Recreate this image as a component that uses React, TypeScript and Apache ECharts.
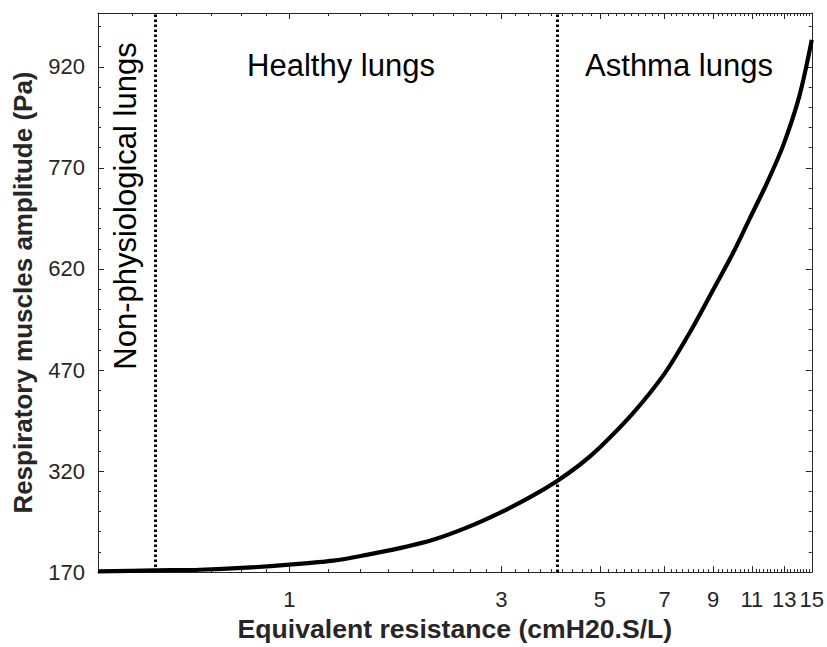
import React, { useEffect, useRef } from "react";
import * as echarts from "echarts";

// Equivalent resistance (cmH20.S/L) and muscle amplitude (Pa)
const resistance = [0.371, 0.5, 0.63, 0.8, 1, 1.256, 1.493, 1.774, 2.108, 2.506, 2.977, 3.5, 4, 4.5, 5, 5.94, 7, 7.96, 8.98, 9.96, 10.86, 11.84, 12.91, 14.07, 15];
const amplitude = [171, 172.5, 173.5, 176.5, 181, 187, 195.6, 205.6, 218, 236, 258, 282, 305, 329, 355, 406, 465, 525, 588, 643, 694, 745, 802, 877, 960];

const xMajorTicks = [1, 3, 5, 7, 9, 11, 13, 15];
const xMinorBelowOne = [0.444, 0.556, 0.667, 0.778, 0.889];
const yMajorTicks = [170, 320, 470, 620, 770, 920];
const yMinorStep = 30;

const regionBoundaries = [0.5, 4];
const regionLabels = ["Non-physiological lungs", "Healthy lungs", "Asthma lungs"];

const X_MIN = 0.371;
const X_MAX = 15;
const Y_MIN = 170;
const Y_MAX = 1000;

const AXIS_COLOR = "#262626";
const FONT = "'Liberation Sans', Arial, Helvetica, sans-serif";

function xMinorTicks(): number[] {
  const out: number[] = [...xMinorBelowOne];
  for (let i = 0; i < xMajorTicks.length - 1; i++) {
    const a = xMajorTicks[i];
    const b = xMajorTicks[i + 1];
    for (let k = 1; k < 9; k++) out.push(a + (k * (b - a)) / 9);
  }
  return out;
}

function yMinorTicks(): number[] {
  const out: number[] = [];
  for (let v = Y_MIN + yMinorStep; v < Y_MAX; v += yMinorStep) {
    if (!yMajorTicks.includes(v)) out.push(v);
  }
  return out;
}

function xAxisDef(position: string, ticks: number[], len: number, labels: boolean, line: boolean, name?: string) {
  return {
    type: "log",
    gridIndex: 0,
    position,
    min: X_MIN,
    max: X_MAX,
    logBase: 10,
    name: name || "",
    nameLocation: "middle",
    nameGap: 35,
    nameTextStyle: { fontFamily: FONT, fontWeight: "bold", fontSize: 26.6, color: AXIS_COLOR },
    axisLine: { show: line, onZero: false, lineStyle: { color: AXIS_COLOR, width: 1 } },
    axisTick: { show: true, inside: true, length: len, customValues: ticks, lineStyle: { color: AXIS_COLOR, width: 1 } },
    axisLabel: {
      show: labels,
      customValues: ticks,
      margin: 16,
      fontFamily: FONT,
      fontSize: 22,
      color: AXIS_COLOR,
      formatter: (v: number) => String(Math.round(v)),
    },
    splitLine: { show: false },
    minorTick: { show: false },
  };
}

function yAxisDef(position: string, ticks: number[], len: number, labels: boolean, line: boolean, name?: string) {
  return {
    type: "value",
    gridIndex: 0,
    position,
    min: Y_MIN,
    max: Y_MAX,
    name: name || "",
    nameLocation: "middle",
    nameGap: 62,
    nameTextStyle: { fontFamily: FONT, fontWeight: "bold", fontSize: 26, color: AXIS_COLOR },
    axisLine: { show: line, onZero: false, lineStyle: { color: AXIS_COLOR, width: 1 } },
    axisTick: { show: true, inside: true, length: len, customValues: ticks, lineStyle: { color: AXIS_COLOR, width: 1 } },
    axisLabel: {
      show: labels,
      customValues: ticks,
      margin: 13,
      fontFamily: FONT,
      fontSize: 22,
      color: AXIS_COLOR,
    },
    splitLine: { show: false },
  };
}

export default function App() {
  const ref = useRef<HTMLDivElement>(null);

  useEffect(() => {
    if (!ref.current) return;
    const chart = echarts.init(ref.current, null, { renderer: "svg" });
    const xMinor = xMinorTicks();
    const yMinor = yMinorTicks();

    const textStyle = (text: string) => ({
      text,
      fontFamily: FONT,
      fontSize: 31,
      fill: "#000000",
      align: "center",
      verticalAlign: "middle",
    });

    chart.setOption({
      animation: false,
      backgroundColor: "#ffffff",
      grid: { left: 98, right: 15, top: 13, bottom: 70, containLabel: false },
      xAxis: [
        xAxisDef("bottom", xMajorTicks, 6, true, true, "Equivalent resistance (cmH20.S/L)"),
        xAxisDef("bottom", xMinor, 3, false, false),
        xAxisDef("top", xMajorTicks, 6, false, true),
        xAxisDef("top", xMinor, 3, false, false),
      ],
      yAxis: [
        yAxisDef("left", yMajorTicks, 6, true, true, "Respiratory muscles amplitude (Pa)"),
        yAxisDef("left", yMinor, 3, false, false),
        yAxisDef("right", yMajorTicks, 6, false, true),
        yAxisDef("right", yMinor, 3, false, false),
      ],
      series: [
        {
          type: "line",
          xAxisIndex: 0,
          yAxisIndex: 0,
          data: resistance.map((r, i) => [r, amplitude[i]]),
          showSymbol: false,
          symbol: "none",
          smooth: 0.3,
          lineStyle: { color: "#000000", width: 4.2 },
          markLine: {
            silent: true,
            symbol: ["none", "none"],
            label: { show: false },
            lineStyle: { color: "#000000", width: 3, type: [2.5, 2.5] },
            data: regionBoundaries.map((b) => ({ xAxis: b })),
          },
          z: 3,
        },
      ],
      graphic: [
        { type: "text", x: 125, y: 206, rotation: Math.PI / 2, style: textStyle(regionLabels[0]) },
        { type: "text", x: 341, y: 65, style: textStyle(regionLabels[1]) },
        { type: "text", x: 679, y: 65, style: textStyle(regionLabels[2]) },
      ],
    });

    return () => chart.dispose();
  }, []);

  return (
    <div
      ref={ref}
      style={{ position: "fixed", left: 0, top: 0, width: 827, height: 647, background: "#ffffff" }}
    />
  );
}
